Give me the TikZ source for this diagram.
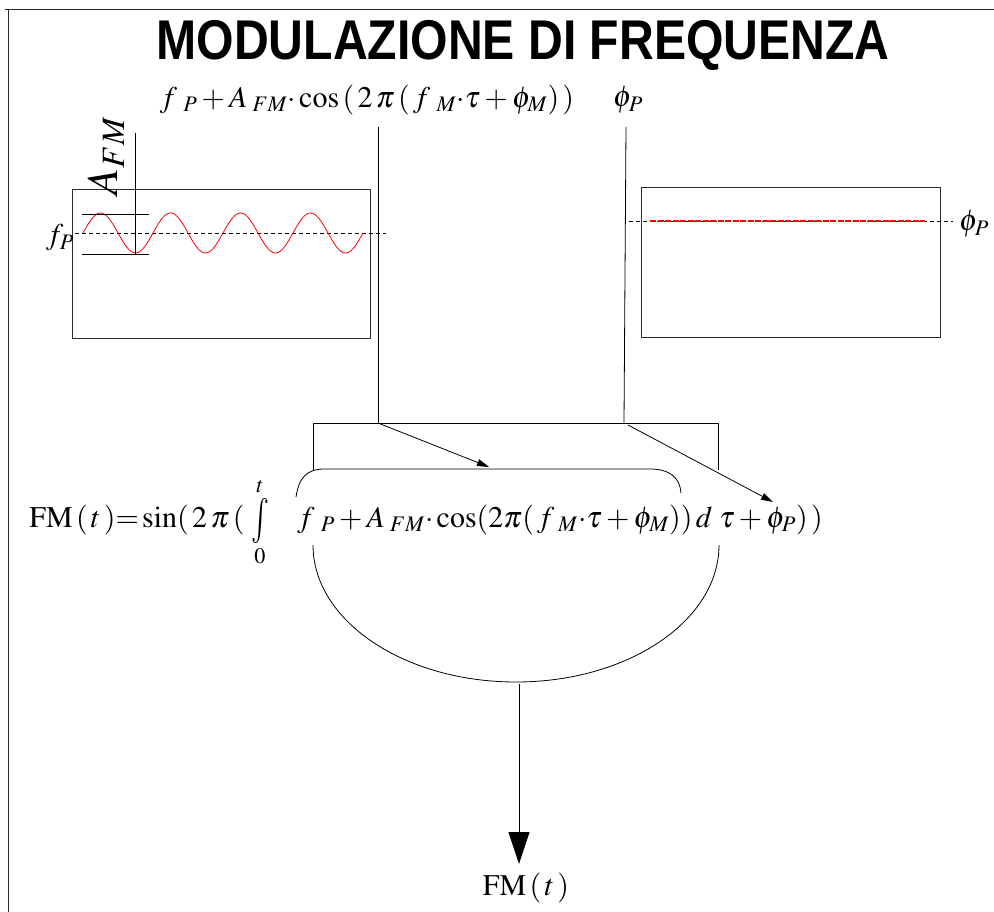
\documentclass[tikz,border=0pt]{standalone}
\usepackage{mathptmx}
\usepackage{fontspec}
\setmainfont{Liberation Serif}
\newfontfamily\titlefont{Liberation Sans}
\usetikzlibrary{arrows.meta, positioning, calc}
\definecolor{wavered}{HTML}{FF0000}
\definecolor{linegray}{HTML}{2A2A2A}

\begin{document}
\begin{tikzpicture}[
    x=1pt, y=-1pt,
    every node/.style={inner sep=0pt, outer sep=0pt},
    frm/.style={font=\fontsize{30}{36}\selectfont},
    panel/.style={draw=linegray, line width=0.9pt},
    link/.style={draw=black, line width=0.8pt},
    feed/.style={link, -{Triangle[length=12pt, width=7pt]}},
    guide/.style={draw=black, line width=0.7pt, dash pattern=on 4pt off 3pt},
]

\useasboundingbox (0,0) rectangle (994,912);

% Slide frame
\draw[linegray, line width=1pt] (5,10) -- (994,10);
\draw[linegray, line width=1pt] (8,10) -- (8,912);

% Title
\node[font=\titlefont\bfseries\fontsize{56}{60}\selectfont] (title) at (523,45)
      {\scalebox{0.86}[1]{MODULAZIONE DI FREQUENZA}};

% === Inputs ===
\node[frm] (fmod) at (367,100)
      {$f_{\mkern8mu P}+A_{\mkern4mu FM}\mathord{\cdot}\cos\,(\,2\,\pi\,(\,f_{\mkern8mu M}\mathord{\cdot}\tau+\phi_{M})\,)$};
\node[frm] (phip) at (628,100) {$\phi_{P}$};

% === Left panel: modulating frequency ===
\draw[panel] (72,189) rectangle (370,338);
\draw[guide] (75,233) -- (386,233);
\draw[wavered, line width=0.8pt, domain=0:280, samples=140, smooth]
      plot ({83+\x}, {233-20*sin(\x*5.142857)});
\draw[link] (82,214) -- (149,214);
\draw[link] (82,254) -- (149,254);
\draw[link] (135,133) -- (135,254);
\node[font=\fontsize{44}{48}\selectfont, rotate=90] (afm) at (106,156) {$A_{FM}$};
\node[frm] (fp) at (60,238) {$f_{P}$};

% === Right panel: phase ===
\draw[panel] (641,187) rectangle (940,337);
\draw[guide] (629,221) -- (953,221);
\draw[wavered, line width=1.2pt, dash pattern=on 6pt off 1.5pt] (650,221) -- (925,221);
\node[frm] (phiright) at (974,224) {$\phi_{P}$};

% === Feeds into the integral ===
\coordinate (dropA) at (378,127);
\coordinate (dropB) at (626,127);
\coordinate (jA) at (378,423);
\coordinate (jB) at (624,423);
\coordinate (tipA) at (489,467);
\coordinate (tipB) at (773,502);
\draw[link] (dropA) -- (jA);
\draw[link] (dropB) -- (jB);
\draw[link] (313,470) -- (313,423) -- (718,423) -- (718,470);
\draw[feed] (jA) -- (tipA);
\draw[feed] ([xshift=4pt,yshift=-2pt]jB) -- (tipB);

% Main formula
\node[frm] (fmt) at (426,522)
      {$\mathrm{FM}\,(\,t\,)\mathbf{=}\sin(\,2\,\pi\,(\mkern4mu\mathop{\raisebox{-0.16em}{\scalebox{1}[1.5]{$\int$}}}\limits_{0}^{t}\mkern15mu
       f_{\mkern8mu P}+A_{\mkern4mu FM}\mathord{\cdot}\cos(2\pi(\,f_{\mkern6mu M}\mathord{\cdot}\tau+\phi_{M}))\,d\;\tau+\phi_{P})\,)$};

% Brace over integrand
\draw[link] (296,497) .. controls (299,477) and (307,469) .. (325,469)
      -- (650,469) .. controls (670,469) and (680,478) .. (681,493);

% Bowl collecting the result
\draw[link] (313,545) arc[start angle=180, end angle=0, x radius=203, y radius=137];

% === Output ===
\coordinate (bowl) at (519,684);
\coordinate (outtip) at (519,864);
\node[frm] (fmout) at (526,888) {$\mathrm{FM}\,(\,t\,)$};
\draw[link, -{Triangle[length=32pt, width=21pt]}] (bowl) -- (outtip);

\end{tikzpicture}
\end{document}
